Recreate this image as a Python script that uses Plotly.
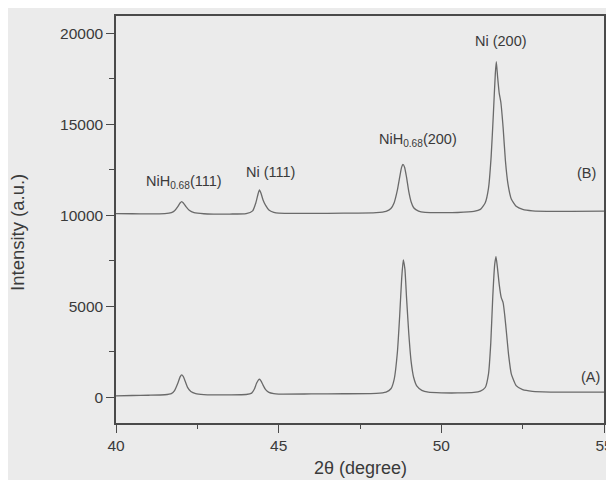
import plotly.graph_objects as go

# ---- data ----
two_theta_A = [40.0, 40.5, 41.0, 41.5, 41.7, 41.8, 41.9, 41.97, 42.02, 42.07, 42.13, 42.2, 42.3, 42.45, 42.7,
               43.0, 43.5, 44.0, 44.17, 44.25, 44.32, 44.38, 44.41, 44.46, 44.52, 44.6, 44.7, 44.85, 45.0,
               46.0, 47.0, 48.0, 48.3, 48.45, 48.55, 48.65, 48.72, 48.78, 48.83, 48.88, 48.93, 49.0, 49.07,
               49.15, 49.25, 49.4, 49.6, 50.0, 50.5, 51.0, 51.2, 51.35, 51.45, 51.52, 51.58, 51.64, 51.68,
               51.72, 51.78, 51.84, 51.9, 51.95, 52.0, 52.07, 52.15, 52.3, 52.5, 52.8, 53.5, 54.0, 55.0]
intensity_A = [90, 110, 125, 150, 210, 380, 780, 1130, 1245, 1150, 880, 560, 330, 210, 160,
               145, 145, 165, 240, 450, 780, 970, 1010, 900, 680, 430, 280, 210, 190,
               195, 205, 230, 300, 480, 1000, 2500, 4500, 6500, 7560, 7050, 5500, 3500, 2000,
               1100, 620, 390, 290, 255, 250, 280, 350, 550, 1300, 3000, 5500, 7300, 7740,
               7200, 6200, 5500, 5200, 4500, 3600, 2300, 1300, 650, 430, 340, 300, 295, 290]

two_theta_B = [40.0, 40.5, 41.0, 41.5, 41.7, 41.8, 41.9, 41.97, 42.02, 42.07, 42.15, 42.25, 42.4, 42.7,
               43.0, 43.5, 44.0, 44.2, 44.3, 44.37, 44.41, 44.46, 44.52, 44.6, 44.7, 44.85, 45.0,
               46.0, 47.0, 48.0, 48.3, 48.45, 48.55, 48.65, 48.72, 48.78, 48.82, 48.87, 48.93, 49.0,
               49.07, 49.15, 49.3, 49.5, 50.0, 50.5, 51.0, 51.2, 51.35, 51.45, 51.53, 51.6, 51.66,
               51.69, 51.73, 51.78, 51.83, 51.9, 51.97, 52.05, 52.15, 52.3, 52.5, 52.8, 53.5, 54.0, 55.0]
intensity_B = [10100, 10090, 10085, 10100, 10150, 10250, 10480, 10680, 10760, 10680, 10480, 10280, 10150, 10090,
               10075, 10075, 10100, 10250, 10700, 11200, 11400, 11200, 10850, 10550, 10300, 10170, 10120,
               10110, 10120, 10150, 10220, 10380, 10700, 11400, 12100, 12650, 12800, 12650, 12100, 11300,
               10750, 10420, 10230, 10165, 10150, 10160, 10220, 10330, 10700, 11500, 13200, 15600, 17800,
               18440, 17600, 16700, 16200, 14800, 13000, 11700, 10900, 10500, 10330, 10250, 10220, 10220, 10230]

x_ticks = [40, 45, 50, 55]
x_tick_labels = ["40", "45", "50", "55"]
y_ticks = [0, 5000, 10000, 15000, 20000]
y_tick_labels = ["0", "5000", "10000", "15000", "20000"]

bg = "#ebebeb"
ink = "#3a3a3a"
line_col = "#6a6a6a"
font = "Liberation Sans, Arial, sans-serif"

fig = go.Figure()
for xs, ys in [(two_theta_A, intensity_A), (two_theta_B, intensity_B)]:
    fig.add_trace(go.Scatter(x=xs, y=ys, mode="lines",
                             line=dict(color=line_col, width=1.3, shape="spline", smoothing=0.5),
                             showlegend=False, hoverinfo="skip"))

peak_labels = [
    (42.09, 11822, "NiH<sub>0.68</sub>(111)"),
    (44.75, 12404, "Ni (111)"),
    (49.28, 14144, "NiH<sub>0.68</sub>(200)"),
    (51.84, 19578, "Ni (200)"),
    (54.46, 12332, "(B)"),
    (54.60, 1153, "(A)"),
]
for x, y, t in peak_labels:
    fig.add_annotation(x=x, y=y, text=t, showarrow=False, xanchor="center", yanchor="middle",
                       font=dict(family=font, size=14.5, color=ink))

fig.add_annotation(xref="paper", yref="paper", x=0.5, y=-0.111, text="2θ (degree)",
                   showarrow=False, xanchor="center", yanchor="middle",
                   font=dict(family=font, size=18, color=ink))
fig.add_annotation(xref="paper", yref="paper", x=-0.2008, y=0.467, text="Intensity (a.u.)",
                   textangle=-90, showarrow=False, xanchor="center", yanchor="middle",
                   font=dict(family=font, size=18.5, color=ink))

axis_common = dict(showgrid=False, zeroline=False, showline=True, linecolor="#4a4a4a", linewidth=1.5,
                   mirror=True, ticks="outside", ticklen=8, tickwidth=1.3, tickcolor="#4a4a4a",
                   automargin=False, tickfont=dict(family=font, size=15.5, color=ink))

fig.update_xaxes(range=[40, 55], tickmode="array", tickvals=x_ticks, ticktext=x_tick_labels,
                 minor=dict(ticks="outside", ticklen=4, tickwidth=1.2, tickcolor="#4a4a4a", dtick=2.5, tick0=40),
                 **axis_common)
fig.update_yaxes(range=[-1400, 20950], tickmode="array", tickvals=y_ticks, ticktext=y_tick_labels,
                 minor=dict(ticks="outside", ticklen=5, tickwidth=1.2, tickcolor="#4a4a4a", dtick=2500, tick0=0),
                 **axis_common)

# the page body adds an 8 px offset at the top-left, so the figure is sized to fit the window
fig.update_layout(width=606, height=472, autosize=False,
                  margin=dict(l=108, r=10, t=8, b=57, autoexpand=False),
                  paper_bgcolor=bg, plot_bgcolor=bg)

fig.write_html("out.html")
